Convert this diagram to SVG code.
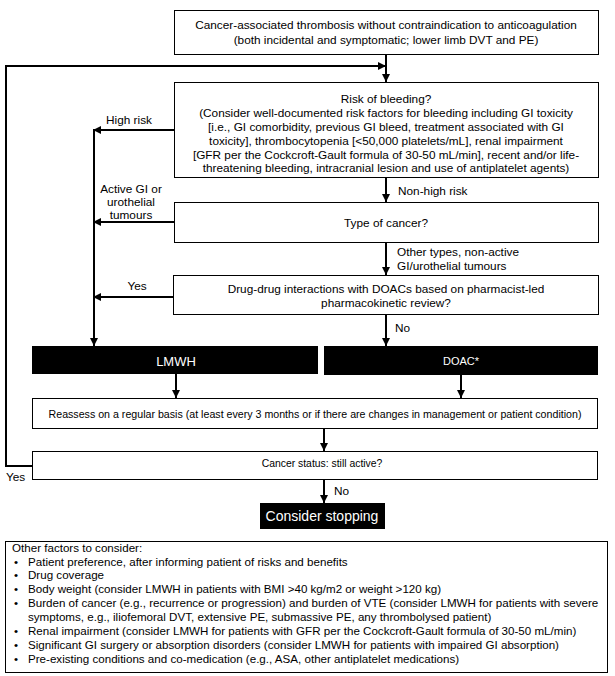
<svg xmlns="http://www.w3.org/2000/svg" width="615" height="676" viewBox="0 0 615 676">
<defs>
<style>
text { font-family: "Liberation Sans", Arial, sans-serif; font-size: 11.8px; fill: #000; }
.c { text-anchor: middle; }
.box { fill: #fff; stroke: #000; stroke-width: 1; }
.blk { fill: #000; stroke: #000; stroke-width: 1; }
.w { fill: #fff; }
.ln { stroke: #000; stroke-width: 2; fill: none; }
.arr { marker-end: url(#ah); }
.li { font-size: 11.6px; }
</style>
<marker id="ah" markerUnits="userSpaceOnUse" markerWidth="8" markerHeight="8" refX="8" refY="4" orient="auto">
<path d="M0,0 L8,4 L0,8 z" fill="#000"/>
</marker>
</defs>
<rect width="615" height="676" fill="#fff"/>

<g id="connectors">
<path class="ln arr" d="M386,54 V82"/>
<path class="ln arr" d="M32,466 H6 V66 H386"/>
<path class="ln arr" d="M174,130 H93"/>
<path class="ln arr" d="M94,130 V346"/>
<path class="ln arr" d="M386,178 V202"/>
<path class="ln arr" d="M174,222 H93"/>
<path class="ln arr" d="M386,242 V275"/>
<path class="ln arr" d="M174,297 H93"/>
<path class="ln arr" d="M386,314 V346"/>
<path class="ln arr" d="M176,374 V398"/>
<path class="ln arr" d="M461,375 V398"/>
<path class="ln arr" d="M324,429 V451"/>
<path class="ln arr" d="M324,480 V503"/>
<text x="129" y="124" class="c">High risk</text>
<text x="131" y="193" class="c">Active GI or</text>
<text x="131" y="206" class="c">urothelial</text>
<text x="131" y="219" class="c">tumours</text>
<text x="398" y="195">Non-high risk</text>
<text x="397" y="256">Other types, non-active</text>
<text x="397" y="270">GI/urothelial tumours</text>
<text x="137" y="290" class="c">Yes</text>
<text x="395" y="332">No</text>
<text x="6" y="481">Yes</text>
<text x="334" y="495">No</text>
</g>

<g id="start">
<rect class="box" x="174.5" y="10.5" width="424" height="44"/>
<text x="386" y="29" class="c">Cancer-associated thrombosis without contraindication to anticoagulation</text>
<text x="386" y="44" class="c">(both incidental and symptomatic; lower limb DVT and PE)</text>
</g>

<g id="bleeding">
<rect class="box" x="174.5" y="82.5" width="424" height="95"/>
<text x="386" y="103" class="c">Risk of bleeding?</text>
<text x="386" y="117" class="c">(Consider well-documented risk factors for bleeding including GI toxicity</text>
<text x="386" y="131" class="c">[i.e., GI comorbidity, previous GI bleed, treatment associated with GI</text>
<text x="386" y="145" class="c">toxicity], thrombocytopenia [&lt;50,000 platelets/mL], renal impairment</text>
<text x="386" y="159" class="c">[GFR per the Cockcroft-Gault formula of 30-50 mL/min], recent and/or life-</text>
<text x="386" y="172" class="c">threatening bleeding, intracranial lesion and use of antiplatelet agents)</text>
</g>

<g id="type">
<rect class="box" x="174.5" y="202.5" width="424" height="40"/>
<text x="386" y="227" class="c">Type of cancer?</text>
</g>

<g id="ddi">
<rect class="box" x="173.5" y="275.5" width="425" height="39"/>
<text x="386" y="293" class="c">Drug-drug interactions with DOACs based on pharmacist-led</text>
<text x="386" y="307" class="c">pharmacokinetic review?</text>
</g>

<g id="lmwh">
<rect class="blk" x="32.5" y="346.5" width="285" height="27"/>
<text x="176" y="366" class="c w" style="font-size:13px">LMWH</text>
</g>

<g id="doac">
<rect class="blk" x="324.5" y="346.5" width="273" height="28"/>
<text x="461" y="365" class="c w" style="font-size:11px">DOAC*</text>
</g>

<g id="reassess">
<rect class="box" x="32.5" y="398.5" width="565" height="30"/>
<text x="315" y="418" class="c" style="font-size:10.65px">Reassess on a regular basis (at least every 3 months or if there are changes in management or patient condition)</text>
</g>

<g id="status">
<rect class="box" x="32.5" y="451.5" width="565" height="28"/>
<text x="322" y="467" class="c" style="font-size:10.4px">Cancer status: still active?</text>
</g>

<g id="stop">
<rect class="blk" x="260.5" y="503.5" width="124" height="25"/>
<text x="322" y="521" class="c w" style="font-size:14px">Consider stopping</text>
</g>

<g id="factors">
<rect class="box" x="5.5" y="541.5" width="602" height="131"/>
<text x="12" y="552" class="li">Other factors to consider:</text>
<text x="14" y="565.5" class="li">•</text><text x="28" y="565.5" class="li">Patient preference, after informing patient of risks and benefits</text>
<text x="14" y="579" class="li">•</text><text x="28" y="579" class="li">Drug coverage</text>
<text x="14" y="593" class="li">•</text><text x="28" y="593" class="li">Body weight (consider LMWH in patients with BMI &gt;40 kg/m2 or weight &gt;120 kg)</text>
<text x="14" y="607" class="li">•</text><text x="28" y="607" class="li">Burden of cancer (e.g., recurrence or progression) and burden of VTE (consider LMWH for patients with severe</text>
<text x="28" y="621" class="li">symptoms, e.g., iliofemoral DVT, extensive PE, submassive PE, any thrombolysed patient)</text>
<text x="14" y="635" class="li">•</text><text x="28" y="635" class="li">Renal impairment (consider LMWH for patients with GFR per the Cockcroft-Gault formula of 30-50 mL/min)</text>
<text x="14" y="649" class="li">•</text><text x="28" y="649" class="li">Significant GI surgery or absorption disorders (consider LMWH for patients with impaired GI absorption)</text>
<text x="14" y="663" class="li">•</text><text x="28" y="663" class="li">Pre-existing conditions and co-medication (e.g., ASA, other antiplatelet medications)</text>
</g>
</svg>
